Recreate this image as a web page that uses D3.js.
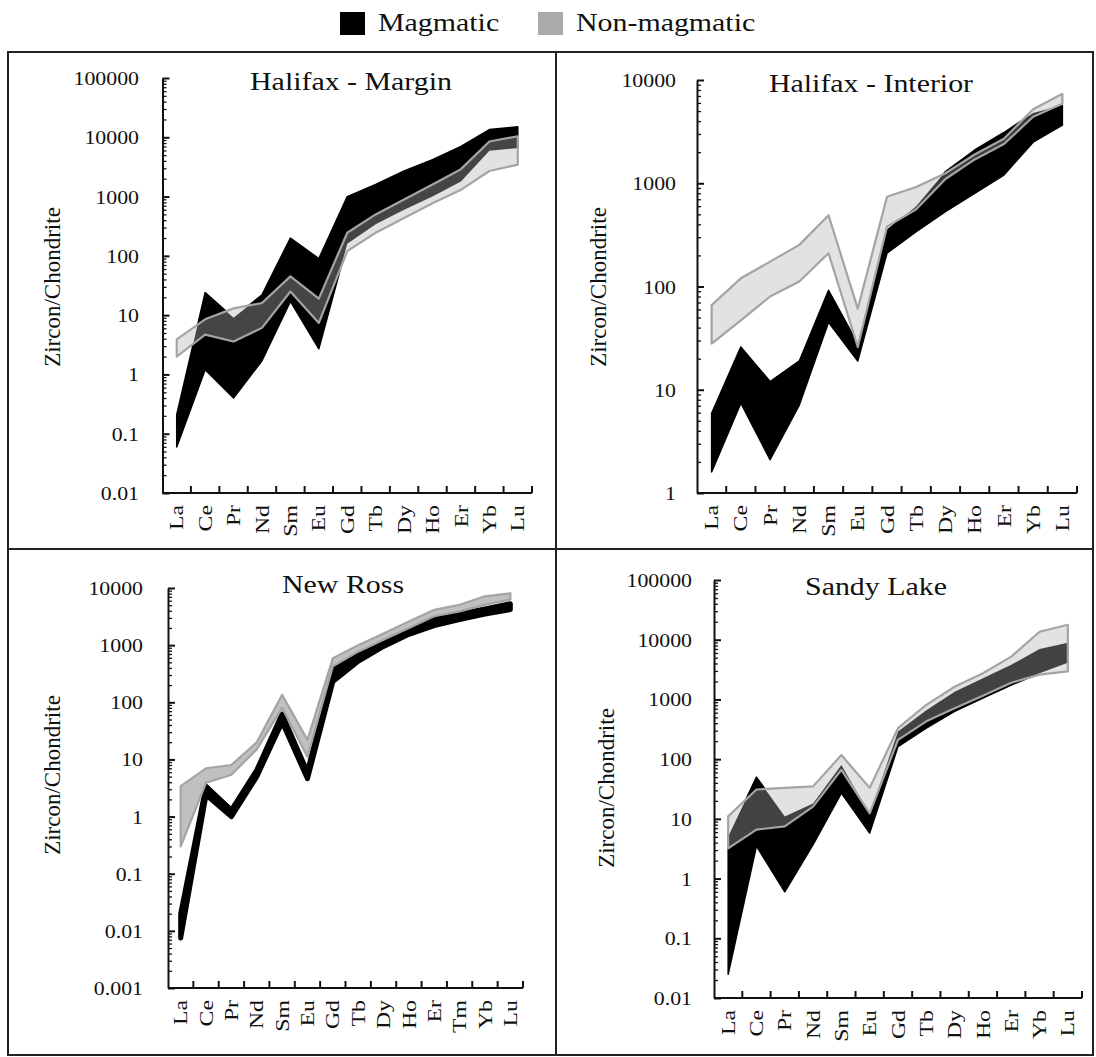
<!DOCTYPE html>
<html>
<head>
<meta charset="utf-8">
<script src="https://cdn.jsdelivr.net/npm/d3@7"></script>
<style>
  body { margin: 0; background: #fff; }
</style>
</head>
<body>
<svg id="chart" width="1096" height="1057"></svg>
<script>
// REE element sequences (New Ross also reports Tm)
const elements13 = ["La", "Ce", "Pr", "Nd", "Sm", "Eu", "Gd", "Tb", "Dy", "Ho", "Er", "Yb", "Lu"];
const elements14 = ["La", "Ce", "Pr", "Nd", "Sm", "Eu", "Gd", "Tb", "Dy", "Ho", "Er", "Tm", "Yb", "Lu"];

// Chondrite-normalised zircon envelopes (min / max of each population)
const hmMagLow  = [0.06, 1.2, 0.4, 1.7, 17, 2.7, 160, 340, 600, 1000, 1800, 5900, 6600];
const hmMagHigh = [0.21, 24, 9, 22, 200, 90, 1000, 1600, 2700, 4200, 7000, 13500, 15000];
const hmNonLow  = [2.0, 4.7, 3.6, 6.1, 25, 7.4, 120, 245, 435, 770, 1300, 2700, 3450];
const hmNonHigh = [3.9, 8.5, 13, 16, 45, 19, 245, 500, 890, 1600, 2900, 8500, 10400];

const hiMagLow  = [1.6, 7.4, 2.1, 7.1, 45, 19, 210, 340, 530, 800, 1200, 2500, 3650];
const hiMagHigh = [5.9, 26, 12, 19, 92, 28, 350, 600, 1300, 2100, 3100, 4800, 5700];
const hiNonLow  = [28, 47, 80, 112, 210, 26, 380, 560, 1100, 1700, 2400, 4400, 5900];
const hiNonHigh = [66, 120, 174, 253, 490, 61, 740, 920, 1250, 1900, 2700, 5200, 7350];

const nrMagLow  = [0.0075, 2.4, 1.0, 5.0, 45, 4.6, 230, 520, 950, 1550, 2200, 2800, 3500, 4200];
const nrMagHigh = [0.02, 3.4, 1.3, 6.5, 62, 6, 380, 720, 1250, 1950, 2900, 3500, 4300, 5300];
const nrNonLow  = [0.30, 3.9, 5.4, 15, 80, 11, 425, 770, 1240, 2000, 3200, 3900, 5100, 6300];
const nrNonHigh = [3.4, 7, 8, 20, 135, 22, 590, 1000, 1600, 2600, 4150, 5100, 7150, 8100];

const slMagLow  = [0.025, 3.5, 0.6, 3.7, 27, 5.8, 162, 330, 630, 1050, 1740, 2740, 4100];
const slMagHigh = [5, 50, 11, 18, 80, 12, 290, 660, 1350, 2270, 3800, 7000, 8900];
const slNonLow  = [3.2, 6.6, 7.5, 16, 66, 12.4, 210, 430, 710, 1150, 1900, 2600, 2950];
const slNonHigh = [11, 31, 33, 35, 117, 33, 330, 810, 1630, 2750, 5200, 13600, 17800];

// Y tick labels
const ticks7 = ["0.01", "0.1", "1", "10", "100", "1000", "10000", "100000"];
const ticks4 = ["1", "10", "100", "1000", "10000"];
const ticksNR = ["0.001", "0.01", "0.1", "1", "10", "100", "1000", "10000"];

const legendItems = ["Magmatic", "Non-magmatic"];

const panels = [
  { title: "Halifax - Margin", cats: elements13, magLow: hmMagLow, magHigh: hmMagHigh, nonLow: hmNonLow, nonHigh: hmNonHigh,
    tickLabels: ticks7, x0: 162.5, x1: 532, yTop: 78, yBot: 493, titleX: 351, titleY: 90, ylabX: 52, ylabY: 287, tickRight: 139,
    magStroke: 1.5, nonFill: "#e2e2e2", overlapFill: "#454545" },
  { title: "Halifax - Interior", cats: elements13, magLow: hiMagLow, magHigh: hiMagHigh, nonLow: hiNonLow, nonHigh: hiNonHigh,
    tickLabels: ticks4, x0: 697, x1: 1077, yTop: 80, yBot: 493, titleX: 871, titleY: 92, ylabX: 598, ylabY: 287, tickRight: 676,
    magStroke: 1.5, nonFill: "#e2e2e2", overlapFill: "#3a3a3a" },
  { title: "New Ross", cats: elements14, magLow: nrMagLow, magHigh: nrMagHigh, nonLow: nrNonLow, nonHigh: nrNonHigh,
    tickLabels: ticksNR, x0: 168, x1: 523, yTop: 588, yBot: 988, titleX: 343, titleY: 593, ylabX: 52, ylabY: 775, tickRight: 143,
    magStroke: 5, nonFill: "#c0c0c0", overlapFill: "#555555" },
  { title: "Sandy Lake", cats: elements13, magLow: slMagLow, magHigh: slMagHigh, nonLow: slNonLow, nonHigh: slNonHigh,
    tickLabels: ticks7, x0: 714, x1: 1082, yTop: 580, yBot: 998, titleX: 876, titleY: 595, ylabX: 606, ylabY: 788, tickRight: 692,
    magStroke: 1.5, nonFill: "#e2e2e2", overlapFill: "#424242" }
];

const FONT = "'Liberation Serif', 'Times New Roman', Times, 'DejaVu Serif', serif";
const SX = 1.15; // horizontal text proportion of the figure

const svg = d3.select("#chart");
const defs = svg.append("defs");

function label(sel) {
  return sel.attr("font-family", FONT).style("font-family", FONT).attr("fill", "#111");
}

// frame around the four panels
svg.append("rect").attr("x", 8).attr("y", 52).attr("width", 1085).attr("height", 1003)
  .attr("fill", "none").attr("stroke", "#222").attr("stroke-width", 2);
svg.append("line").attr("x1", 556).attr("x2", 556).attr("y1", 52).attr("y2", 1055)
  .attr("stroke", "#222").attr("stroke-width", 2);
svg.append("line").attr("x1", 8).attr("x2", 1093).attr("y1", 549).attr("y2", 549)
  .attr("stroke", "#222").attr("stroke-width", 2);

// legend
const legendColors = ["#000", "#aaaaaa"];
const legendX = [340, 538];
legendItems.forEach((name, i) => {
  svg.append("rect").attr("x", legendX[i]).attr("y", 12).attr("width", 25).attr("height", 23)
    .attr("fill", legendColors[i]);
  svg.append("text").attr("transform", `translate(${legendX[i] + 38},31) scale(${SX},1)`)
    .call(label).style("font-size", "26px").text(name);
});

panels.forEach((p, pi) => {
  const x = d3.scaleBand().domain(p.cats).range([p.x0, p.x1]);
  const tickVals = p.tickLabels.map(Number);
  const y = d3.scaleLog().domain([tickVals[0], tickVals[tickVals.length - 1]]).range([p.yBot, p.yTop]);
  const cx = c => x(c) + x.bandwidth() / 2;
  const g = svg.append("g");

  const mag = p.cats.map((c, i) => ({ c, lo: p.magLow[i], hi: p.magHigh[i] }));
  const non = p.cats.map((c, i) => ({ c, lo: p.nonLow[i], hi: p.nonHigh[i] }));
  const area = d3.area().x(d => cx(d.c)).y0(d => y(d.lo)).y1(d => y(d.hi));

  // magmatic envelope
  g.append("path").datum(mag).attr("d", area)
    .attr("fill", "#000").attr("stroke", "#000").attr("stroke-width", p.magStroke)
    .attr("stroke-linejoin", "round");

  // non-magmatic envelope
  g.append("path").datum(non).attr("d", area).attr("fill", p.nonFill);

  // where both envelopes coincide
  const clipId = "magClip" + pi;
  defs.append("clipPath").attr("id", clipId).append("path").datum(mag).attr("d", area);
  g.append("path").datum(non).attr("d", area)
    .attr("fill", p.overlapFill).attr("clip-path", `url(#${clipId})`);

  // outline of the non-magmatic envelope
  g.append("path").datum(non).attr("d", area)
    .attr("fill", "none").attr("stroke", "#a4a4a4").attr("stroke-width", 2.2)
    .attr("stroke-linejoin", "round");

  // y axis: decades with labels, minor ticks in between
  const minors = [];
  for (let k = 0; k < tickVals.length - 1; k++) {
    for (let m = 2; m <= 9; m++) minors.push(tickVals[k] * m);
  }
  const yMinor = g.append("g").attr("transform", `translate(${p.x0},0)`)
    .call(d3.axisLeft(y).tickValues(minors).tickSize(-4).tickFormat(""));
  yMinor.select(".domain").remove();
  yMinor.selectAll("line").attr("stroke", "#111").attr("stroke-width", 1.3);

  const yAxis = g.append("g").attr("transform", `translate(${p.x0},0)`)
    .call(d3.axisLeft(y).tickValues(tickVals).tickSize(-7).tickSizeOuter(0)
      .tickPadding(p.x0 - p.tickRight).tickFormat((d, i) => p.tickLabels[i]));
  yAxis.attr("font-family", FONT);
  yAxis.select(".domain").attr("stroke", "#111").attr("stroke-width", 2);
  yAxis.selectAll(".tick line").attr("stroke", "#111").attr("stroke-width", 2);
  yAxis.selectAll(".tick text").each(function () {
    const t = d3.select(this);
    const tx = +t.attr("x");
    t.attr("x", null).attr("dy", null)
      .attr("transform", `translate(${tx},6.5) scale(${SX},1)`)
      .call(label).style("font-size", "19px");
  });

  // x axis: category boundaries with upward ticks
  g.append("line").attr("x1", p.x0).attr("x2", p.x1).attr("y1", p.yBot).attr("y2", p.yBot)
    .attr("stroke", "#111").attr("stroke-width", 2);
  d3.range(1, p.cats.length + 1).forEach(i => {
    const bx = p.x0 + i * x.step();
    g.append("line").attr("x1", bx).attr("x2", bx).attr("y1", p.yBot).attr("y2", p.yBot - 7)
      .attr("stroke", "#111").attr("stroke-width", 2);
  });
  p.cats.forEach(c => {
    const lx = cx(c), ly = p.yBot + 12;
    g.append("text")
      .attr("transform", `translate(${lx},${ly}) rotate(-90) scale(1.25,1)`)
      .attr("text-anchor", "end").attr("dy", "0.35em")
      .call(label).style("font-size", "19px").text(c);
  });

  // axis title and panel title
  g.append("text")
    .attr("transform", `translate(${p.ylabX},${p.ylabY}) rotate(-90)`)
    .attr("text-anchor", "middle").attr("dy", "0.35em")
    .call(label).style("font-size", "23px").text("Zircon/Chondrite");
  g.append("text")
    .attr("transform", `translate(${p.titleX},${p.titleY}) scale(${SX},1)`)
    .attr("text-anchor", "middle")
    .call(label).style("font-size", "26px").text(p.title);
});
</script>
</body>
</html>
